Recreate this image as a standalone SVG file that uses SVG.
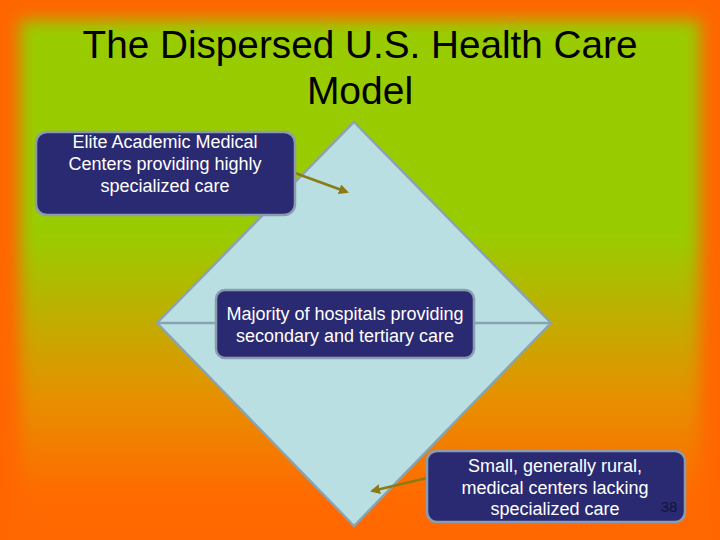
<svg xmlns="http://www.w3.org/2000/svg" width="720" height="540" viewBox="0 0 720 540">
<defs>
<linearGradient id="bg" x1="0" y1="0" x2="0" y2="1">
<stop offset="0" stop-color="#99cc00"/>
<stop offset="0.4" stop-color="#99cc00"/>
<stop offset="0.7" stop-color="#e69000"/>
<stop offset="0.88" stop-color="#ff6a00"/>
<stop offset="1" stop-color="#ff6600"/>
</linearGradient>
<filter id="blur" x="-0.1" y="-0.1" width="1.2" height="1.2"><feGaussianBlur stdDeviation="8"/></filter>
<marker id="ah" viewBox="0 0 10 10" refX="8" refY="5" markerWidth="4" markerHeight="4" orient="auto"><path d="M0,0 L10,5 L0,10 z" fill="#8c7a14"/></marker>
<style>
.box{fill:#2a2a72;stroke:#8c9cb0;stroke-width:2.5}
.t{font-family:"Liberation Sans",Arial,sans-serif;font-size:18px;fill:#ffffff;text-anchor:middle}
.title{font-family:"Liberation Sans",Arial,sans-serif;font-size:39px;fill:#000;text-anchor:middle}
.conn{stroke:#8c7a14;stroke-width:2.5;fill:none;marker-end:url(#ah)}
</style>
</defs>
<rect width="720" height="540" fill="#ff6600"/>
<rect x="20" y="20" width="680" height="540" fill="url(#bg)" filter="url(#blur)"/>
<text class="title" x="360" y="58" textLength="555" lengthAdjust="spacingAndGlyphs">The Dispersed U.S. Health Care</text>
<text class="title" x="360" y="104">Model</text>
<g id="diamond">
<polygon points="354,122 551,323 354,526 157,323" fill="#b9dfe3" stroke="#8aa3b0" stroke-width="2.5"/>
<line x1="157" y1="323" x2="551" y2="323" stroke="#8aa3b0" stroke-width="2.5"/>
</g>
<g id="connectors">
<line class="conn" x1="295" y1="173" x2="347" y2="192"/>
<line class="conn" x1="427" y1="478" x2="372" y2="491"/>
</g>
<g id="elite">
<rect class="box" x="36" y="132" width="259" height="83" rx="11"/>
<text class="t" x="165" y="148">Elite Academic Medical</text>
<text class="t" x="165" y="170">Centers providing highly</text>
<text class="t" x="165" y="192">specialized care</text>
</g>
<g id="majority">
<rect class="box" x="216" y="290" width="258" height="68" rx="9"/>
<text class="t" x="345" y="320">Majority of hospitals providing</text>
<text class="t" x="345" y="342">secondary and tertiary care</text>
</g>
<g id="small">
<rect class="box" x="427" y="451" width="258" height="71" rx="10"/>
<text class="t" x="555" y="472">Small, generally rural,</text>
<text class="t" x="555" y="494">medical centers lacking</text>
<text class="t" x="555" y="515">specialized care</text>
</g>
<text x="669" y="512" font-family="Liberation Sans,Arial,sans-serif" font-size="15" fill="#14143a" text-anchor="middle">38</text>
</svg>
